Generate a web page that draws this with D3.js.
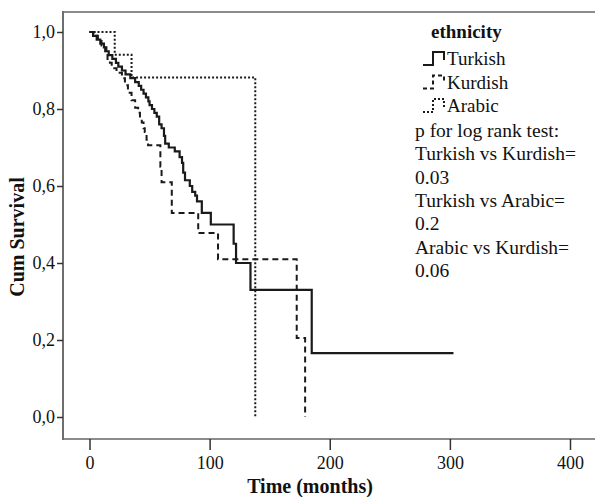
<!DOCTYPE html>
<html><head><meta charset="utf-8">
<script src="https://cdn.jsdelivr.net/npm/d3@7/dist/d3.min.js"></script>
<style>
html,body{margin:0;padding:0;background:#fff;}
svg{display:block;}
text{font-family:"Liberation Serif","Times New Roman",serif !important;fill:#111;}
</style></head>
<body>
<svg id="chart" width="595" height="497" font-family="Liberation Serif, serif"></svg>
<script>
// ---- data ----
const groups = ["Turkish", "Kurdish", "Arabic"];
const turkishTimes = [0,3,6,9,12,14,16,19,22,24,27,30,34,38,41,43,45,47,49,50,52,54,56,58,60,62,63,66,71,75,77,78,79.5,83.5,85.5,88,89.5,93.5,101,120,122,134,185,303];
const turkishSurv  = [1,0.99,0.98,0.97,0.96,0.95,0.94,0.93,0.92,0.91,0.90,0.89,0.88,0.87,0.86,0.85,0.84,0.83,0.82,0.81,0.80,0.79,0.78,0.76,0.75,0.73,0.71,0.70,0.69,0.675,0.66,0.635,0.615,0.60,0.585,0.575,0.56,0.53,0.50,0.45,0.40,0.33,0.166,0.166];
const kurdishTimes = [0,4,7,10,13,15,17,18.5,22.5,27,29.5,32,35,38,40.5,42,43.5,45,46,47.5,48.75,59,60,68.5,90.5,107,172.5,179.5];
const kurdishSurv  = [1,0.99,0.98,0.965,0.95,0.93,0.92,0.906,0.894,0.88,0.862,0.842,0.823,0.803,0.79,0.775,0.765,0.75,0.74,0.72,0.706,0.65,0.61,0.53,0.478,0.41,0.205,0];
const arabicTimes  = [0,21,35,138];
const arabicSurv   = [1,0.941,0.882,0];
const xTicks = [0,100,200,300,400];
const yTicks = [0,0.2,0.4,0.6,0.8,1.0];
const pTexts = ["p for log rank test:","Turkish vs Kurdish=","0.03","Turkish vs Arabic=","0.2","Arabic vs Kurdish=","0.06"];

// ---- layout ----
const FONT = "Liberation Serif, Times New Roman, serif";
const svg = d3.select("#chart");
const frameL = 63, frameT = 12, frameB = 439, frameR = 595;
const x = d3.scaleLinear().domain([0,400]).range([89.5,570]);
const y = d3.scaleLinear().domain([0,1]).range([417,32]);

// frame
svg.append("line").attr("x1",frameL).attr("x2",frameR).attr("y1",frameT).attr("y2",frameT)
  .attr("stroke","#8c8c8c").attr("stroke-width",2);
svg.append("line").attr("x1",frameL).attr("x2",frameR).attr("y1",frameB).attr("y2",frameB)
  .attr("stroke","#8c8c8c").attr("stroke-width",2);
svg.append("line").attr("x1",frameL).attr("x2",frameL).attr("y1",frameT-1).attr("y2",frameB+1)
  .attr("stroke","#6e6e6e").attr("stroke-width",2);

// axes
const yAxis = d3.axisLeft(y).tickValues(yTicks).tickSize(6).tickPadding(2)
  .tickFormat(d => d3.format(".1f")(d).replace(".", ","));
const gy = svg.append("g").attr("transform",`translate(${frameL},0)`).call(yAxis);
gy.attr("font-family", FONT);
gy.select(".domain").remove();
gy.selectAll(".tick line").attr("stroke","#333").attr("stroke-width",1.5);
gy.selectAll(".tick text").attr("font-size",18).attr("fill","#111");

const xAxis = d3.axisBottom(x).tickValues(xTicks).tickSize(11).tickPadding(6).tickFormat(d3.format("d"));
const gx = svg.append("g").attr("transform",`translate(0,${frameB})`).call(xAxis);
gx.attr("font-family", FONT);
gx.select(".domain").remove();
gx.selectAll(".tick line").attr("stroke","#333").attr("stroke-width",1.5);
gx.selectAll(".tick text").attr("font-size",18).attr("fill","#111");

// axis titles
svg.append("text").attr("x",310).attr("y",493).attr("text-anchor","middle")
  .attr("font-size",20).attr("font-weight","bold").text("Time (months)");
svg.append("text").attr("transform","translate(24,237) rotate(-90)").attr("text-anchor","middle")
  .attr("font-size",20).attr("font-weight","bold").text("Cum Survival");

// curves
const line = d3.line().x(d => x(d[0])).y(d => y(d[1])).curve(d3.curveStepAfter);
const styles = {
  Turkish: {dash:null, w:2.2},
  Kurdish: {dash:"6,4", w:2},
  Arabic:  {dash:"2,2", w:2}
};
const series = [
  {name:"Turkish", pts: d3.zip(turkishTimes, turkishSurv)},
  {name:"Kurdish", pts: d3.zip(kurdishTimes, kurdishSurv)},
  {name:"Arabic",  pts: d3.zip(arabicTimes, arabicSurv)}
];
series.forEach(s => {
  svg.append("path").attr("d", line(s.pts)).attr("fill","none")
    .attr("stroke","#1a1a1a").attr("stroke-width", styles[s.name].w)
    .attr("stroke-dasharray", styles[s.name].dash);
});

// legend
const lg = svg.append("g");
lg.append("text").attr("x",431).attr("y",38).attr("font-size",19).attr("font-weight","bold").text("ethnicity");
groups.forEach((g,i) => {
  const yy = 65 + i*23.5;
  lg.append("path")
    .attr("d", `M423,${yy} H433 V${yy-13} H444 V${yy-5}`)
    .attr("fill","none").attr("stroke","#1a1a1a").attr("stroke-width",2)
    .attr("stroke-dasharray", styles[g].dash ? (g==="Kurdish" ? "4,3" : "2,2") : null);
  lg.append("text").attr("x",447).attr("y",yy).attr("font-size",19).text(g);
});
pTexts.forEach((t,i) => {
  lg.append("text").attr("x",415).attr("y",137 + i*23.3).attr("font-size",19.5).text(t);
});
</script>
</body></html>
